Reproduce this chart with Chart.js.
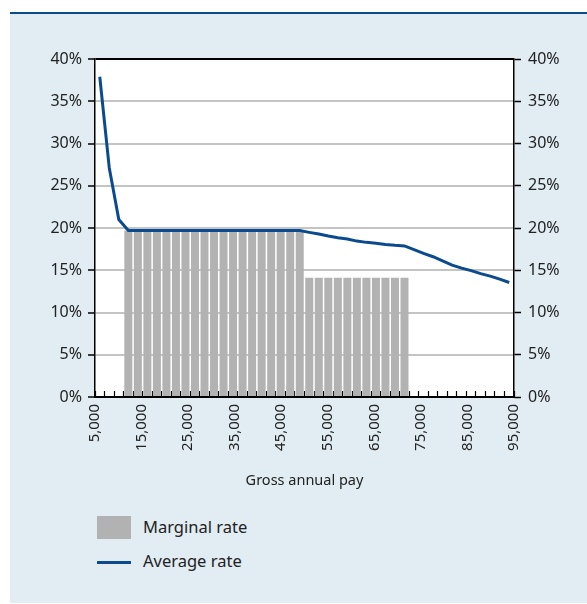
<!DOCTYPE html>
<html>
<head>
<meta charset="utf-8">
<script src="https://cdn.jsdelivr.net/npm/chart.js@4.4.0/dist/chart.umd.min.js"></script>
<style>
  html, body { margin: 0; padding: 0; background: #ffffff; width: 587px; height: 604px; overflow: hidden; }
  #panel { position: absolute; left: 10px; top: 12px; width: 577px; height: 589px; background: #e1ecf3; border-top: 2px solid #0b4a8e; }
  #chart { position: absolute; left: 0; top: 0; }
  .leg { position: absolute; left: 97px; font-family: "Noto Sans", "Open Sans", sans-serif; font-size: 16.5px; color: #222; }
  .leg .sw { position: absolute; left: 0; }
  .leg .tx { position: absolute; left: 46px; white-space: nowrap; }
</style>
</head>
<body>
<div id="panel"></div>
<canvas id="chart" width="587" height="500"></canvas>
<div class="leg" style="top:516px;">
  <div class="sw" style="top:0;width:34px;height:23px;background:#b2b2b2;"></div>
  <div class="tx" style="top:-1px;">Marginal rate</div>
</div>
<div class="leg" style="top:549px;">
  <div class="sw" style="top:12px;width:34px;height:3px;background:#0b4a8e;"></div>
  <div class="tx" style="top:0;">Average rate</div>
</div>
<script>
// Hidden pay bands (category positions for the bars and the line)
const payBands = ['6,000','8,000','10,000','12,000','14,000','16,000','18,000','20,000','22,000','24,000',
  '26,000','28,000','30,000','32,000','34,000','36,000','38,000','40,000','42,000','44,000',
  '46,000','48,000','50,000','52,000','54,000','56,000','58,000','60,000','62,000','64,000',
  '66,000','68,000','70,000','72,000','74,000','76,000','78,000','80,000','82,000','84,000',
  '86,000','88,000','90,000','92,000'];

// Marginal rate (%) per band
const marginalRate = [null, null, null,
  19.7, 19.7, 19.7, 19.7, 19.7, 19.7, 19.7, 19.7, 19.7, 19.7,
  19.7, 19.7, 19.7, 19.7, 19.7, 19.7, 19.7, 19.7, 19.7,
  14.1, 14.1, 14.1, 14.1, 14.1, 14.1, 14.1, 14.1, 14.1, 14.1, 14.1,
  null, null, null, null, null, null, null, null, null, null, null];

// Average rate (%) per band
const averageRate = [37.9, 27.1, 21.0,
  19.7, 19.7, 19.7, 19.7, 19.7, 19.7, 19.7, 19.7, 19.7, 19.7,
  19.7, 19.7, 19.7, 19.7, 19.7, 19.7, 19.7, 19.7, 19.7,
  19.48, 19.28, 19.05, 18.85, 18.7, 18.45, 18.3, 18.2, 18.05, 17.95, 17.88,
  17.45, 17.0, 16.6, 16.1, 15.6, 15.25, 14.95, 14.6, 14.3, 13.95, 13.55];

// Axis ticks
const payMin = 5000, payMax = 95000, payLabelStep = 10000;
const rateMin = 0, rateMax = 40, rateStep = 5;

const FONT = '"Noto Sans", "Open Sans", sans-serif';
const TXT = '#222222';

const plotBg = {
  id: 'plotBg',
  beforeDraw(chart) {
    const {ctx, chartArea: a} = chart;
    ctx.save();
    ctx.fillStyle = '#ffffff';
    ctx.fillRect(a.left, a.top, a.right - a.left, a.bottom - a.top);
    ctx.restore();
  }
};

new Chart(document.getElementById('chart'), {
  data: {
    labels: payBands,
    datasets: [
      { type: 'line', label: 'Average rate', data: averageRate, borderColor: '#0b4a8e', borderWidth: 3,
        pointRadius: 0, tension: 0, fill: false, order: 0, xAxisID: 'x', yAxisID: 'y' },
      { type: 'bar', label: 'Marginal rate', data: marginalRate, backgroundColor: '#b2b2b2',
        categoryPercentage: 1.0, barPercentage: 0.84, order: 1, xAxisID: 'x', yAxisID: 'y' }
    ]
  },
  options: {
    responsive: false,
    devicePixelRatio: 1,
    animation: false,
    layout: { padding: { top: 59, left: 0, right: 0, bottom: 0 } },
    plugins: { legend: { display: false }, tooltip: { enabled: false } },
    scales: {
      x: {
        type: 'category', position: 'bottom', offset: true, weight: 0,
        grid: { offset: true, drawOnChartArea: false, drawTicks: true, tickLength: -6, tickColor: '#000', tickWidth: 1.2 },
        border: { display: true, color: '#000', width: 1.5 },
        ticks: { display: false, autoSkip: false },
        afterFit(s) { s.height = 0; }
      },
      x2: {
        type: 'linear', position: 'bottom', weight: 1, min: payMin, max: payMax,
        grid: { display: false, drawTicks: false },
        border: { display: false },
        ticks: { stepSize: payLabelStep, minRotation: 90, maxRotation: 90, padding: 7,
          color: TXT, font: { family: FONT, size: 15 },
          callback: v => v.toLocaleString('en-US') },
        title: { display: true, text: 'Gross annual pay', color: TXT, font: { family: FONT, size: 14.5 }, padding: { top: 0, bottom: 10 } },
        afterFit(s) { s.height = 103; }
      },
      y: {
        position: 'left', min: rateMin, max: rateMax,
        grid: { color: c => (c.tick && (c.tick.value === rateMax || c.tick.value === rateMin)) ? '#000' : '#c4c4c4',
          lineWidth: 2, tickLength: 7, tickColor: '#000', tickWidth: 1.5 },
        border: { display: true, color: '#000', width: 1.5 },
        ticks: { stepSize: rateStep, padding: 6, color: TXT, font: { family: FONT, size: 16 }, callback: v => v + '%' },
        afterFit(s) { s.width = 95; }
      },
      y2: {
        position: 'right', min: rateMin, max: rateMax,
        grid: { drawOnChartArea: false, tickLength: 7, tickColor: '#000', tickWidth: 1.5 },
        border: { display: true, color: '#000', width: 1.5 },
        ticks: { stepSize: rateStep, padding: 7, color: TXT, font: { family: FONT, size: 16 }, callback: v => v + '%' },
        afterFit(s) { s.width = 73; }
      }
    }
  },
  plugins: [plotBg]
});
</script>
</body>
</html>
